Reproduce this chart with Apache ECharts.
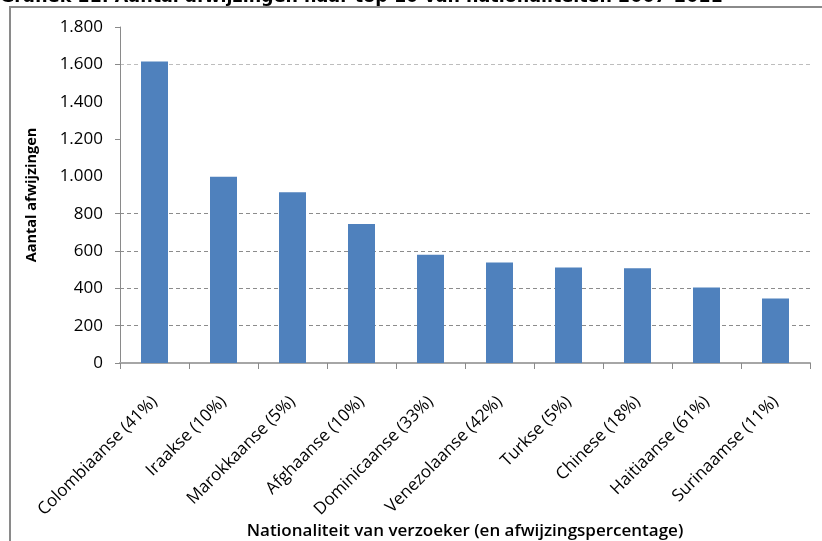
<!DOCTYPE html>
<html>
<head>
<meta charset="utf-8">
<script src="https://cdn.jsdelivr.net/npm/echarts@6/dist/echarts.min.js"></script>
<style>
html,body{margin:0;padding:0;background:#fff;}
#chart{width:822px;height:541px;}
</style>
</head>
<body>
<div id="chart"></div>
<script>
var titleText = 'Grafiek 11: Aantal afwijzingen naar top 10 van nationaliteiten 2007-2011';
var categories = ['Colombiaanse (41%)', 'Iraakse (10%)', 'Marokkaanse (5%)', 'Afghaanse (10%)', 'Dominicaanse (33%)', 'Venezolaanse (42%)', 'Turkse (5%)', 'Chinese (18%)', 'Haitiaanse (61%)', 'Surinaamse (11%)'];
var afwijzingen = [1615, 998, 915, 745, 580, 538, 512, 507, 404, 346];
var yTicks = [0, 200, 400, 600, 800, 1000, 1200, 1400, 1600, 1800];
var yAxisName = 'Aantal afwijzingen';
var xAxisName = 'Nationaliteit van verzoeker (en afwijzingspercentage)';

var chart = echarts.init(document.getElementById('chart'), null, {renderer: 'canvas'});
chart.setOption({
  animation: false,
  backgroundColor: '#ffffff',
  title: {
    text: titleText,
    left: 0,
    top: -12,
    padding: 0,
    textStyle: {fontFamily: 'DejaVu Sans', fontWeight: 'bold', fontSize: 17.5, color: '#000'}
  },
  graphic: [{
    type: 'rect',
    shape: {x: 10, y: 7, width: 840, height: 560},
    style: {fill: 'none', stroke: '#8a8a8a', lineWidth: 2},
    silent: true
  }],
  grid: {left: 120, right: 12, top: 27, bottom: 178, containLabel: false, outerBoundsMode: 'none'},
  xAxis: {
    type: 'category',
    data: categories,
    boundaryGap: true,
    name: xAxisName,
    nameLocation: 'middle',
    nameGap: 160,
    nameMoveOverlap: false,
    nameTextStyle: {fontFamily: 'Open Sans', fontWeight: 600, fontSize: 17, color: '#000'},
    axisLine: {show: true, lineStyle: {color: '#a6a6a6', width: 2}},
    axisTick: {show: true, length: 6, lineStyle: {color: '#8a8a8a', width: 1}},
    axisLabel: {rotate: 45, margin: 36, interval: 0, fontFamily: 'Open Sans', fontSize: 17, color: '#000'}
  },
  yAxis: {
    type: 'value',
    min: yTicks[0],
    max: yTicks[yTicks.length - 1],
    interval: 200,
    name: yAxisName,
    nameLocation: 'middle',
    nameRotate: 90,
    nameGap: 81,
    nameMoveOverlap: false,
    nameTextStyle: {fontFamily: 'Open Sans', fontWeight: 'bold', fontSize: 14.5, color: '#000'},
    axisLine: {show: true, lineStyle: {color: '#8a8a8a', width: 1}},
    axisTick: {show: true, length: 5, customValues: [0, 200, 400, 600, 800, 1200, 1600, 1800], lineStyle: {color: '#8a8a8a'}},
    axisLabel: {
      margin: 17,
      fontFamily: 'Open Sans',
      fontSize: 17,
      color: '#000',
      formatter: function (v) { return v.toLocaleString('nl-NL'); }
    },
    splitLine: {
      show: true,
      lineStyle: {
        color: ['rgba(0,0,0,0)', '#8c8c8c', '#8c8c8c', '#8c8c8c', '#8c8c8c', 'rgba(0,0,0,0)', '#bdbdbd', 'rgba(0,0,0,0)', '#8c8c8c', '#9a9a9a'],
        type: [4, 3],
        width: 1
      }
    }
  },
  series: [{
    type: 'bar',
    data: afwijzingen,
    barWidth: 27,
    itemStyle: {color: '#4f81bd'}
  }]
});
</script>
</body>
</html>
